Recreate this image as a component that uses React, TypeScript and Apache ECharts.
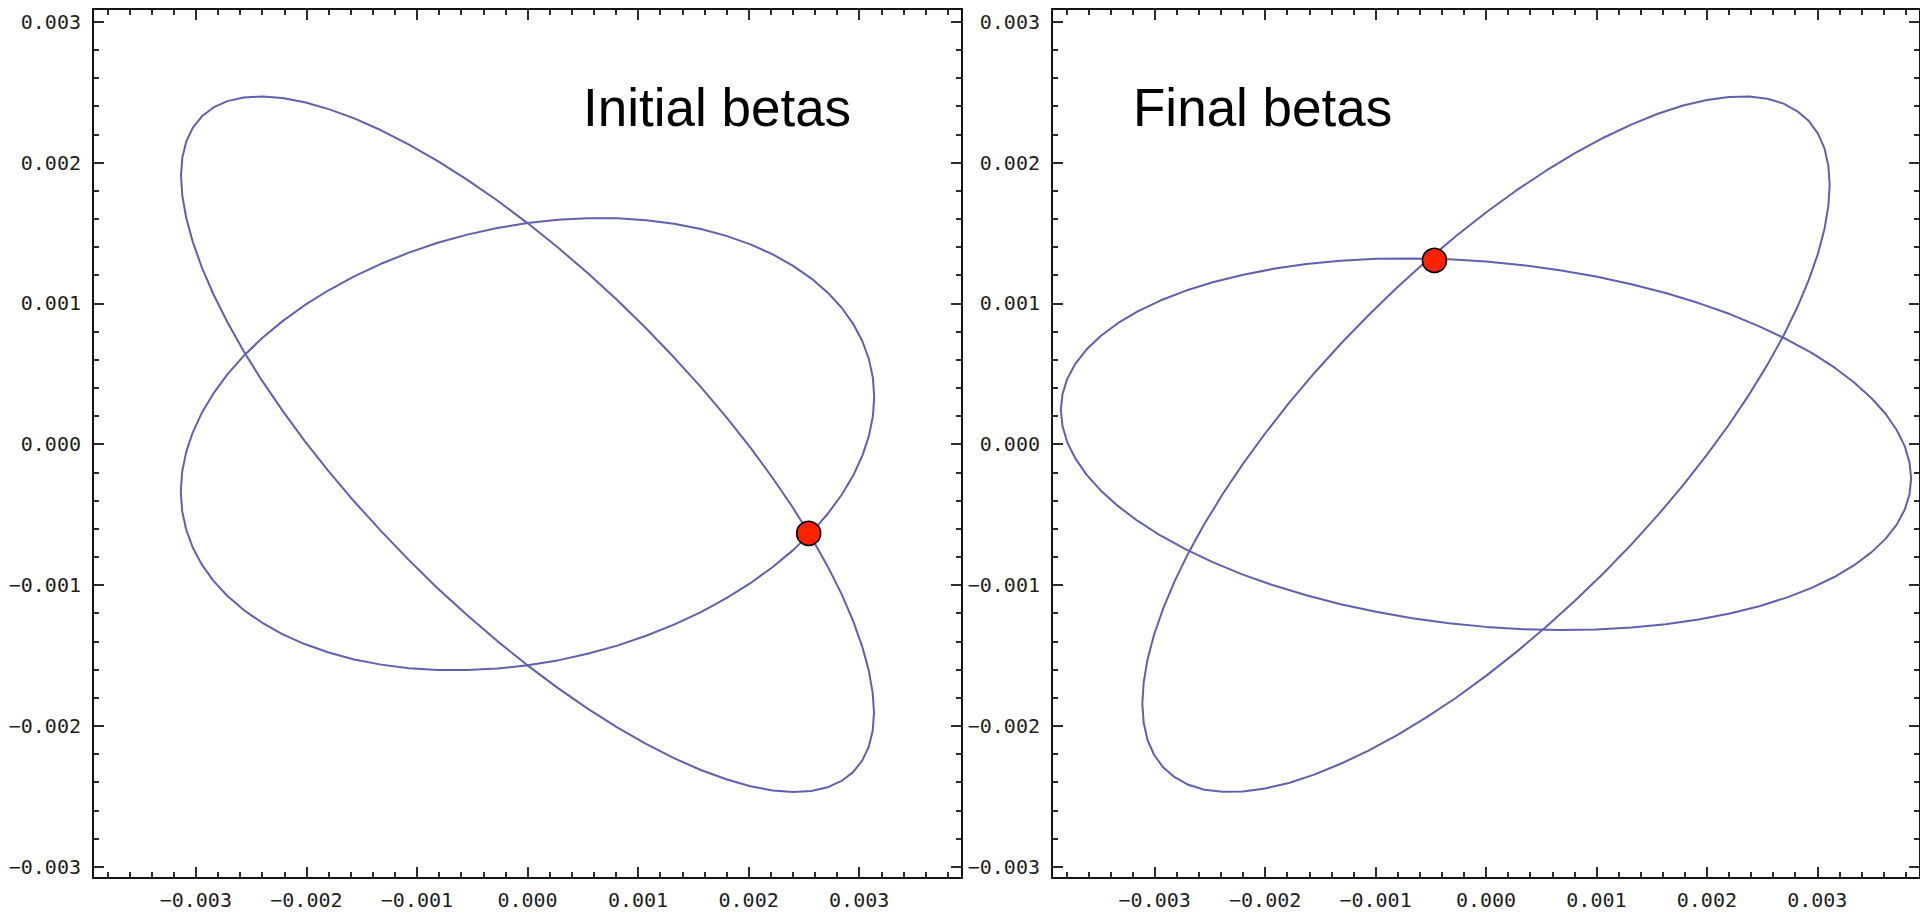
import React, { useEffect, useRef } from 'react';
import * as echarts from 'echarts';

// All values are in units of 0.001 (thousandths), converted with UNIT.
const UNIT = 0.001;
const X_RANGE: [number, number] = [-3.93, 3.93];
const Y_RANGE: [number, number] = [-3.08, 3.09];
const MAJOR_TICKS = [-3, -2, -1, 0, 1, 2, 3];
const X_MINOR_TICKS = [-3.8, -3.6, -3.4, -3.2, -2.8, -2.6, -2.4, -2.2, -1.8, -1.6, -1.4, -1.2, -0.8, -0.6, -0.4, -0.2,
  0.2, 0.4, 0.6, 0.8, 1.2, 1.4, 1.6, 1.8, 2.2, 2.4, 2.6, 2.8, 3.2, 3.4, 3.6, 3.8];
const Y_MINOR_TICKS = [-2.8, -2.6, -2.4, -2.2, -1.8, -1.6, -1.4, -1.2, -0.8, -0.6, -0.4, -0.2,
  0.2, 0.4, 0.6, 0.8, 1.2, 1.4, 1.6, 1.8, 2.2, 2.4, 2.6, 2.8];

const panelTitles = ['Initial betas', 'Final betas'];

// Left panel ("Initial betas"): two closed curves
const initialCurveA: [number, number][] = [
  [0, 1.570], [-0.273, 1.730], [-0.544, 1.877], [-0.811, 2.010], [-1.072, 2.127], [-1.324, 2.229],
  [-1.567, 2.313], [-1.798, 2.379], [-2.015, 2.428], [-2.216, 2.458], [-2.401, 2.469], [-2.567, 2.462],
  [-2.714, 2.436], [-2.840, 2.391], [-2.945, 2.328], [-3.027, 2.247], [-3.086, 2.150], [-3.122, 2.036],
  [-3.134, 1.906], [-3.122, 1.762], [-3.086, 1.604], [-3.027, 1.435], [-2.945, 1.254], [-2.840, 1.063],
  [-2.714, 0.866], [-2.567, 0.660], [-2.401, 0.451], [-2.216, 0.238], [-2.015, 0.022], [-1.798, -0.193],
  [-1.567, -0.407], [-1.324, -0.617], [-1.072, -0.823], [-0.811, -1.024], [-0.544, -1.215], [-0.273, -1.398],
  [0, -1.570], [0.273, -1.730], [0.544, -1.877], [0.811, -2.010], [1.072, -2.127], [1.324, -2.229],
  [1.567, -2.313], [1.798, -2.379], [2.015, -2.428], [2.216, -2.458], [2.401, -2.469], [2.567, -2.462],
  [2.714, -2.436], [2.840, -2.391], [2.945, -2.328], [3.027, -2.247], [3.086, -2.150], [3.122, -2.036],
  [3.134, -1.906], [3.122, -1.762], [3.086, -1.604], [3.027, -1.435], [2.945, -1.254], [2.840, -1.063],
  [2.714, -0.866], [2.567, -0.660], [2.401, -0.451], [2.216, -0.238], [2.015, -0.022], [1.798, 0.193],
  [1.567, 0.407], [1.324, 0.617], [1.072, 0.823], [0.811, 1.024], [0.544, 1.215], [0.273, 1.398],
  [0, 1.570],
];
const initialCurveB: [number, number][] = [
  [0, 1.570], [-0.274, 1.535], [-0.544, 1.488], [-0.812, 1.430], [-1.073, 1.360], [-1.325, 1.281],
  [-1.568, 1.192], [-1.799, 1.093], [-2.016, 0.987], [-2.218, 0.872], [-2.402, 0.752], [-2.569, 0.626],
  [-2.716, 0.494], [-2.842, 0.359], [-2.947, 0.221], [-3.029, 0.081], [-3.088, -0.058], [-3.124, -0.198],
  [-3.136, -0.336], [-3.124, -0.472], [-3.088, -0.604], [-3.029, -0.731], [-2.947, -0.853], [-2.842, -0.969],
  [-2.716, -1.076], [-2.569, -1.176], [-2.402, -1.266], [-2.218, -1.348], [-2.016, -1.419], [-1.799, -1.479],
  [-1.568, -1.528], [-1.325, -1.565], [-1.073, -1.590], [-0.812, -1.604], [-0.544, -1.604], [-0.274, -1.593],
  [0, -1.570], [0.274, -1.535], [0.544, -1.488], [0.812, -1.430], [1.073, -1.360], [1.325, -1.281],
  [1.568, -1.192], [1.799, -1.093], [2.016, -0.987], [2.218, -0.872], [2.402, -0.752], [2.569, -0.626],
  [2.716, -0.494], [2.842, -0.359], [2.947, -0.221], [3.029, -0.081], [3.088, 0.058], [3.124, 0.198],
  [3.136, 0.336], [3.124, 0.472], [3.088, 0.604], [3.029, 0.731], [2.947, 0.853], [2.842, 0.969],
  [2.716, 1.076], [2.569, 1.176], [2.402, 1.266], [2.218, 1.348], [2.016, 1.419], [1.799, 1.479],
  [1.568, 1.528], [1.325, 1.565], [1.073, 1.590], [0.812, 1.604], [0.544, 1.604], [0.274, 1.593],
  [0, 1.570],
];
const initialPoint: [number, number] = [2.543, -0.633];

// Right panel ("Final betas")
const finalCurveC: [number, number][] = [
  [0, 1.297], [-0.336, 1.313], [-0.668, 1.319], [-0.996, 1.316], [-1.317, 1.302], [-1.627, 1.279],
  [-1.925, 1.245], [-2.208, 1.202], [-2.475, 1.150], [-2.722, 1.089], [-2.949, 1.020], [-3.154, 0.943],
  [-3.334, 0.859], [-3.489, 0.768], [-3.618, 0.672], [-3.719, 0.571], [-3.792, 0.464], [-3.835, 0.355],
  [-3.850, 0.243], [-3.835, 0.129], [-3.792, 0.014], [-3.719, -0.101], [-3.618, -0.216], [-3.489, -0.328],
  [-3.334, -0.438], [-3.154, -0.545], [-2.949, -0.648], [-2.722, -0.745], [-2.475, -0.837], [-2.208, -0.924],
  [-1.925, -1.002], [-1.627, -1.073], [-1.317, -1.136], [-0.996, -1.190], [-0.668, -1.235], [-0.336, -1.271],
  [0, -1.297], [0.336, -1.313], [0.668, -1.319], [0.996, -1.316], [1.317, -1.302], [1.627, -1.279],
  [1.925, -1.245], [2.208, -1.202], [2.475, -1.150], [2.722, -1.089], [2.949, -1.020], [3.154, -0.943],
  [3.334, -0.859], [3.489, -0.768], [3.618, -0.672], [3.719, -0.571], [3.792, -0.464], [3.835, -0.355],
  [3.850, -0.243], [3.835, -0.129], [3.792, -0.014], [3.719, 0.101], [3.618, 0.216], [3.489, 0.328],
  [3.334, 0.438], [3.154, 0.545], [2.949, 0.648], [2.722, 0.745], [2.475, 0.837], [2.208, 0.924],
  [1.925, 1.002], [1.627, 1.073], [1.317, 1.136], [0.996, 1.190], [0.668, 1.235], [0.336, 1.271],
  [0, 1.297],
];
const finalCurveD: [number, number][] = [
  [0, 1.645], [-0.271, 1.478], [-0.540, 1.300], [-0.805, 1.112], [-1.064, 0.916], [-1.315, 0.713],
  [-1.556, 0.504], [-1.785, 0.291], [-2.000, 0.076], [-2.201, -0.140], [-2.384, -0.354], [-2.549, -0.565],
  [-2.695, -0.772], [-2.820, -0.974], [-2.924, -1.168], [-3.006, -1.353], [-3.065, -1.528], [-3.100, -1.692],
  [-3.112, -1.842], [-3.100, -1.978], [-3.065, -2.100], [-3.006, -2.205], [-2.924, -2.294], [-2.820, -2.364],
  [-2.695, -2.418], [-2.549, -2.453], [-2.384, -2.468], [-2.201, -2.466], [-2.000, -2.444], [-1.785, -2.405],
  [-1.556, -2.346], [-1.315, -2.269], [-1.064, -2.176], [-0.805, -2.066], [-0.540, -1.940], [-0.271, -1.800],
  [0, -1.645], [0.271, -1.478], [0.540, -1.300], [0.805, -1.112], [1.064, -0.916], [1.315, -0.713],
  [1.556, -0.504], [1.785, -0.291], [2.000, -0.076], [2.201, 0.140], [2.384, 0.354], [2.549, 0.565],
  [2.695, 0.772], [2.820, 0.974], [2.924, 1.168], [3.006, 1.353], [3.065, 1.528], [3.100, 1.692],
  [3.112, 1.842], [3.100, 1.978], [3.065, 2.100], [3.006, 2.205], [2.924, 2.294], [2.820, 2.364],
  [2.695, 2.418], [2.549, 2.453], [2.384, 2.468], [2.201, 2.466], [2.000, 2.444], [1.785, 2.405],
  [1.556, 2.346], [1.315, 2.269], [1.064, 2.176], [0.805, 2.066], [0.540, 1.940], [0.271, 1.800],
  [0, 1.645],
];
const finalPoint: [number, number] = [-0.467, 1.305];

const LINE_COLOR = '#6060b0';
const FRAME_COLOR = '#151515';
const DOT_COLOR = '#ff2200';

const toData = (pts: [number, number][]) => pts.map(([x, y]) => [x * UNIT, y * UNIT]);

const fmt = (v: number) => {
  const t = Math.round(v / UNIT);
  return (t < 0 ? '\u2212' : '') + (Math.abs(t) * UNIT).toFixed(3);
};

function makeAxis(
  gridIndex: number,
  position: string,
  range: [number, number],
  tickValues: number[],
  tickLen: number,
  withLabel: boolean,
  withLine: boolean,
) {
  return {
    type: 'value',
    gridIndex,
    position,
    min: range[0] * UNIT,
    max: range[1] * UNIT,
    scale: false,
    splitLine: { show: false },
    minorTick: { show: false },
    minorSplitLine: { show: false },
    axisLine: { show: withLine, onZero: false, lineStyle: { color: FRAME_COLOR, width: 2 } },
    axisTick: {
      show: true,
      inside: true,
      length: tickLen,
      customValues: tickValues.map((v) => v * UNIT),
      lineStyle: { color: FRAME_COLOR, width: 1.8 },
    },
    axisLabel: {
      show: withLabel,
      customValues: MAJOR_TICKS.map((v) => v * UNIT),
      formatter: fmt,
      fontFamily: '"DejaVu Sans Mono", monospace',
      fontSize: 20,
      color: '#1e1e1e',
      margin: 12,
    },
  };
}

export default function App() {
  const ref = useRef<HTMLDivElement>(null);

  useEffect(() => {
    if (!ref.current) return;
    const chart = echarts.init(ref.current, undefined, { renderer: 'svg' });

    const grids = [
      { left: 93, top: 9, width: 869, height: 869 },
      { left: 1052, top: 9, width: 869, height: 869 },
    ];

    const xAxes: any[] = [];
    const yAxes: any[] = [];
    grids.forEach((_, g) => {
      xAxes.push(makeAxis(g, 'bottom', X_RANGE, MAJOR_TICKS, 11, true, true));
      xAxes.push(makeAxis(g, 'bottom', X_RANGE, X_MINOR_TICKS, 6, false, false));
      xAxes.push(makeAxis(g, 'top', X_RANGE, MAJOR_TICKS, 11, false, true));
      xAxes.push(makeAxis(g, 'top', X_RANGE, X_MINOR_TICKS, 6, false, false));
      yAxes.push(makeAxis(g, 'left', Y_RANGE, MAJOR_TICKS, 11, true, true));
      yAxes.push(makeAxis(g, 'left', Y_RANGE, Y_MINOR_TICKS, 6, false, false));
      yAxes.push(makeAxis(g, 'right', Y_RANGE, MAJOR_TICKS, 11, false, true));
      yAxes.push(makeAxis(g, 'right', Y_RANGE, Y_MINOR_TICKS, 6, false, false));
    });

    const curve = (data: [number, number][], axisIdx: number) => ({
      type: 'line',
      xAxisIndex: axisIdx,
      yAxisIndex: axisIdx,
      data: toData(data),
      showSymbol: false,
      symbol: 'none',
      smooth: false,
      silent: true,
      lineStyle: { color: LINE_COLOR, width: 2, join: 'round' },
      z: 2,
    });
    const dot = (p: [number, number], axisIdx: number) => ({
      type: 'scatter',
      xAxisIndex: axisIdx,
      yAxisIndex: axisIdx,
      data: [[p[0] * UNIT, p[1] * UNIT]],
      symbol: 'circle',
      symbolSize: 24,
      silent: true,
      itemStyle: { color: DOT_COLOR, borderColor: '#000', borderWidth: 1.6, opacity: 1 },
      z: 5,
    });

    const titleStyle = (text: string) => ({
      text,
      fontFamily: '"Liberation Sans", Arial, sans-serif',
      fontSize: 53,
      fill: '#000',
      textAlign: 'left',
      align: 'left',
      textVerticalAlign: 'middle',
      verticalAlign: 'middle',
    });

    chart.setOption({
      animation: false,
      backgroundColor: '#ffffff',
      grid: grids,
      xAxis: xAxes,
      yAxis: yAxes,
      series: [
        curve(initialCurveA, 0),
        curve(initialCurveB, 0),
        dot(initialPoint, 0),
        curve(finalCurveC, 4),
        curve(finalCurveD, 4),
        dot(finalPoint, 4),
      ],
      graphic: [
        { type: 'text', x: 583, y: 107, z: 10, style: titleStyle(panelTitles[0]) },
        { type: 'text', x: 1133, y: 107, z: 10, style: titleStyle(panelTitles[1]) },
      ],
    });

    return () => chart.dispose();
  }, []);

  return (
    <div
      ref={ref}
      style={{ position: 'fixed', left: 0, top: 0, width: 1920, height: 917, background: '#fff' }}
    />
  );
}
